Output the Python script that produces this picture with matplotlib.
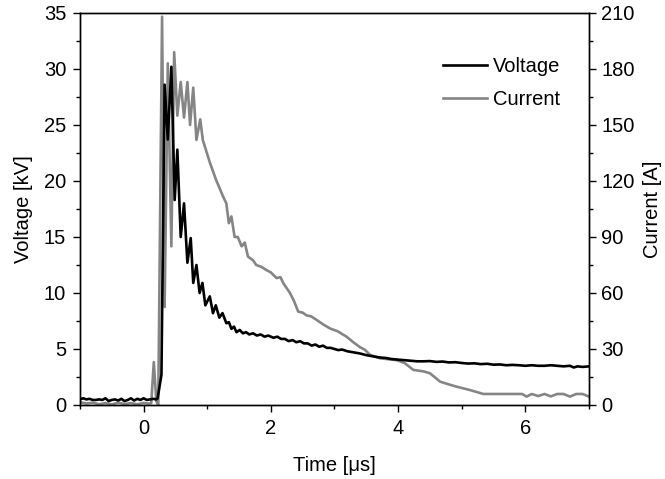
import numpy as np
import matplotlib
matplotlib.use("Agg")
import matplotlib.pyplot as plt
from matplotlib.ticker import MultipleLocator

# voltage trace [kV]
t_v = [-1.0, -0.95, -0.9, -0.85, -0.8, -0.75, -0.7, -0.65, -0.6, -0.55, -0.5, -0.45,
       -0.4, -0.35, -0.3, -0.25, -0.2, -0.15, -0.1, -0.05, 0.0, 0.05, 0.1, 0.15, 0.2,
       0.22, 0.28, 0.33, 0.38, 0.436, 0.488, 0.53, 0.583, 0.635, 0.688, 0.74, 0.78,
       0.83, 0.88, 0.924, 0.97, 1.04, 1.09, 1.134, 1.19, 1.24, 1.30, 1.34, 1.38, 1.42,
       1.46, 1.51, 1.56, 1.61, 1.66, 1.72, 1.78, 1.84, 1.9, 1.96, 2.04, 2.1, 2.16,
       2.22, 2.28, 2.34, 2.4, 2.46, 2.52, 2.58, 2.64, 2.7, 2.76, 2.82, 2.88, 2.94,
       3.0, 3.06, 3.12, 3.2, 3.3, 3.4, 3.5, 3.6, 3.7, 3.8, 3.9, 4.0, 4.1, 4.2, 4.3,
       4.4, 4.5, 4.6, 4.7, 4.8, 4.9, 5.0, 5.1, 5.2, 5.3, 5.4, 5.5, 5.6, 5.7, 5.8,
       5.9, 6.0, 6.1, 6.2, 6.3, 6.4, 6.5, 6.6, 6.7, 6.76, 6.82, 6.9, 7.0]
voltage = [0.5, 0.6, 0.5, 0.55, 0.45, 0.45, 0.5, 0.45, 0.6, 0.35, 0.45, 0.5,
           0.4, 0.55, 0.35, 0.45, 0.6, 0.4, 0.55, 0.45, 0.6, 0.45, 0.5, 0.55, 0.5,
           0.6, 2.7, 28.6, 23.7, 30.2, 18.3, 22.8, 15.0, 18.0, 12.7, 14.9, 10.9,
           12.5, 10.0, 10.9, 8.9, 9.7, 8.2, 8.9, 7.8, 8.2, 7.3, 7.4, 6.8, 7.0,
           6.5, 6.7, 6.4, 6.5, 6.3, 6.4, 6.2, 6.3, 6.1, 6.2, 6.0, 6.1, 5.9,
           5.9, 5.7, 5.8, 5.6, 5.7, 5.5, 5.5, 5.3, 5.4, 5.2, 5.3, 5.1, 5.1,
           5.0, 4.9, 4.95, 4.8, 4.7, 4.6, 4.45, 4.35, 4.25, 4.2, 4.1, 4.05, 4.0, 3.95, 3.9,
           3.9, 3.92, 3.85, 3.88, 3.8, 3.82, 3.75, 3.7, 3.72, 3.65, 3.68, 3.6, 3.62, 3.55, 3.58,
           3.55, 3.5, 3.55, 3.5, 3.5, 3.55, 3.5, 3.45, 3.5, 3.35, 3.45, 3.4, 3.45]

# current trace [A]
t_i = [-1.0, -0.9, -0.8, -0.7, -0.6, -0.5, -0.4, -0.3, -0.2, -0.1, 0.0, 0.08,
       0.12, 0.16, 0.2, 0.23, 0.29, 0.33, 0.38, 0.436, 0.48, 0.53, 0.583, 0.635,
       0.688, 0.73, 0.78, 0.83, 0.89, 0.93, 1.04, 1.14, 1.25, 1.30, 1.34, 1.38,
       1.43, 1.48, 1.54, 1.59, 1.64, 1.72, 1.77, 1.85, 1.93, 2.0, 2.09, 2.15, 2.2,
       2.3, 2.36, 2.43, 2.5, 2.56, 2.63, 2.7, 2.83, 2.93, 3.05, 3.12, 3.19, 3.3,
       3.4, 3.48, 3.56, 3.72, 3.85, 3.98, 4.1, 4.24, 4.4, 4.5, 4.66, 4.8, 4.92,
       5.13, 5.34, 5.6, 5.82, 5.95, 6.02, 6.1, 6.2, 6.3, 6.4, 6.5, 6.6, 6.7, 6.8,
       6.9, 7.0]
current = [1.5, 0.8, 1.2, 0.4, 1.0, 0.3, 1.2, 0.5, 1.0, 0.4, 1.1, 0.7,
           1.0, 23.0, 2.0, 0.0, 208.0, 52.5, 183.0, 85.0, 189.0, 155.0, 173.0, 154.0,
           173.0, 150.0, 170.0, 142.0, 153.0, 142.0, 130.0, 120.5, 111.6, 108.0, 97.4, 101.0,
           90.0, 90.0, 85.0, 87.0, 79.5, 77.5, 75.0, 74.0, 72.3, 71.0, 68.0, 68.5, 65.0,
           60.0, 56.0, 50.0, 49.5, 48.0, 47.5, 46.0, 43.0, 41.0, 39.5, 38.0, 36.6, 33.5,
           31.0, 29.5, 26.8, 25.0, 24.5, 24.0, 22.5, 18.8, 18.0, 17.0, 12.5, 11.0, 9.8,
           8.0, 5.9, 5.9, 5.9, 5.9, 4.5, 5.9, 4.8, 5.9, 4.6, 5.9, 5.9, 4.5, 5.9,
           5.9, 4.5]

plt.rcParams["font.family"] = ["Liberation Sans", "DejaVu Sans"]
plt.rcParams["font.size"] = 14.5

fig = plt.figure(figsize=(6.65, 4.79), dpi=100)
ax = fig.add_axes([0.1203, 0.1545, 0.7654, 0.8184])
ax2 = ax.twinx()

lv, = ax.plot(t_v, voltage, color="black", lw=1.9, label="Voltage")
li, = ax2.plot(t_i, current, color="#858585", lw=1.9, label="Current")
ax.set_zorder(ax2.get_zorder() + 1)
ax.patch.set_visible(False)

ax.set_xlim(-1, 7)
ax.set_ylim(0, 35)
ax2.set_ylim(0, 210)

ax.xaxis.set_major_locator(MultipleLocator(2))
ax.xaxis.set_minor_locator(MultipleLocator(1))
ax.yaxis.set_major_locator(MultipleLocator(5))
ax.yaxis.set_minor_locator(MultipleLocator(2.5))
ax2.yaxis.set_major_locator(MultipleLocator(30))
ax2.yaxis.set_minor_locator(MultipleLocator(15))

ax.tick_params(which="major", direction="out", length=5, width=1, top=False, pad=5)
ax.tick_params(which="minor", direction="out", length=3, width=1, top=False)
ax2.tick_params(which="major", direction="out", length=5, width=1, pad=4)
ax2.tick_params(which="minor", direction="out", length=3, width=1)
for a in (ax, ax2):
    for s in a.spines.values():
        s.set_linewidth(1.0)

ax.set_xlabel("Time [μs]", labelpad=13)
ax.set_ylabel("Voltage [kV]", labelpad=8)
ax2.set_ylabel("Current [A]", labelpad=6)

ax.legend(handles=[lv, li], loc="upper right", bbox_to_anchor=(0.98, 0.935),
          frameon=False, handlelength=2.2, handletextpad=0.3, labelspacing=0.7,
          fontsize=14.5)

fig.savefig("out.png", dpi=100)
